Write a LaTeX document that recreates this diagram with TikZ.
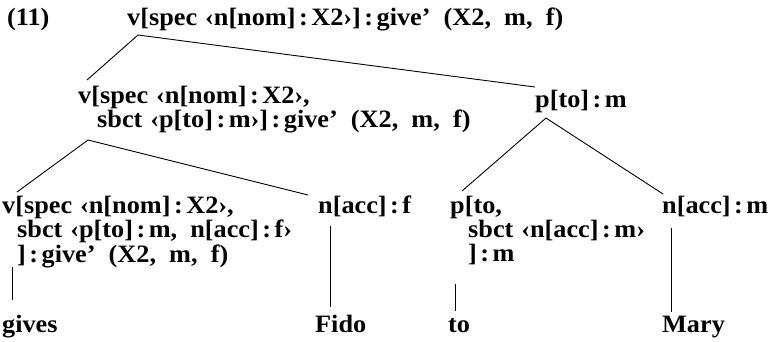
\documentclass[tikz,border=0pt]{standalone}
\usepackage{fontspec}
\setmainfont{Liberation Serif}[FakeStretch=1.05]
\usetikzlibrary{calc}
\newcommand{\cl}{\kern3.5pt:\kern3.5pt}
\newcommand{\wsp}{\ \ }
\newcommand{\gsp}{\kern8pt}
\begin{document}
\begin{tikzpicture}[x=1pt,y=-1pt,
  t/.style={anchor=base west, inner sep=0pt, font=\bfseries\fontsize{25}{23}\selectfont},
  edge/.style={line width=0.9pt}]
\useasboundingbox (0,0) rectangle (778,341);
\node[t] (ex) at (7,25) {(11)};
\node[t] (root) at (127,25) {v[spec\gsp‹n[nom]\cl X2›]\cl give’\wsp(X2,\wsp m,\wsp f)};
\node[t] (vA) at (78,103) {\begin{tabular}[t]{@{}l@{}}v[spec\gsp‹n[nom]\cl X2›,\\\hspace*{19pt}sbct\gsp‹p[to]\cl m›]\cl give’\wsp(X2,\wsp m,\wsp f)\end{tabular}};
\node[t] (pA) at (535,107) {p[to]\cl m};
\node[t] (vB) at (2,213) {\begin{tabular}[t]{@{}l@{}}v[spec\gsp‹n[nom]\cl X2›,\\\hspace*{15pt}sbct\gsp‹p[to]\cl m,\wsp n[acc]\cl f›\\\hspace*{15pt}]\cl give’\wsp(X2,\wsp m,\wsp f)\end{tabular}};
\node[t] (nf) at (318,213) {n[acc]\cl f};
\node[t] (pB) at (450,213) {\begin{tabular}[t]{@{}l@{}}p[to,\\\hspace*{18pt}sbct\gsp‹n[acc]\cl m›\\\hspace*{18pt}]\cl m\end{tabular}};
\node[t] (nm) at (662,213) {n[acc]\cl m};
\node[t] (gives) at (2,332) {gives};
\node[t] (fido) at (315,332) {Fido};
\node[t] (to) at (448,332) {to};
\node[t] (mary) at (662,332) {Mary};
% connectors
\draw[edge] ($(vA.base west)+(9,-23)$) -- ($(root.base west)+(11,10)$) -- ($(pA.base west)+(0,-20)$);
\draw[edge] ($(vB.base west)+(15,-21)$) -- ($(vA.base west)+(10,37)$) -- ($(nf.base west)+(-10,-18)$);
\draw[edge] ($(pB.base west)+(12,-22)$) -- ($(pA.base west)+(11,11)$) -- ($(nm.base west)+(1,-19)$);
\draw[edge] ($(vB.base west)+(10,54)$) -- ($(gives.base west)+(10,-32)$);
\draw[edge] ($(nf.base west)+(12,13)$) -- ($(fido.base west)+(15,-25)$);
\draw[edge] ($(pB.base west)+(5,71)$) -- ($(to.base west)+(7,-21)$);
\draw[edge] ($(nm.base west)+(9,15)$) -- ($(mary.base west)+(9,-20)$);
\end{tikzpicture}
\end{document}
